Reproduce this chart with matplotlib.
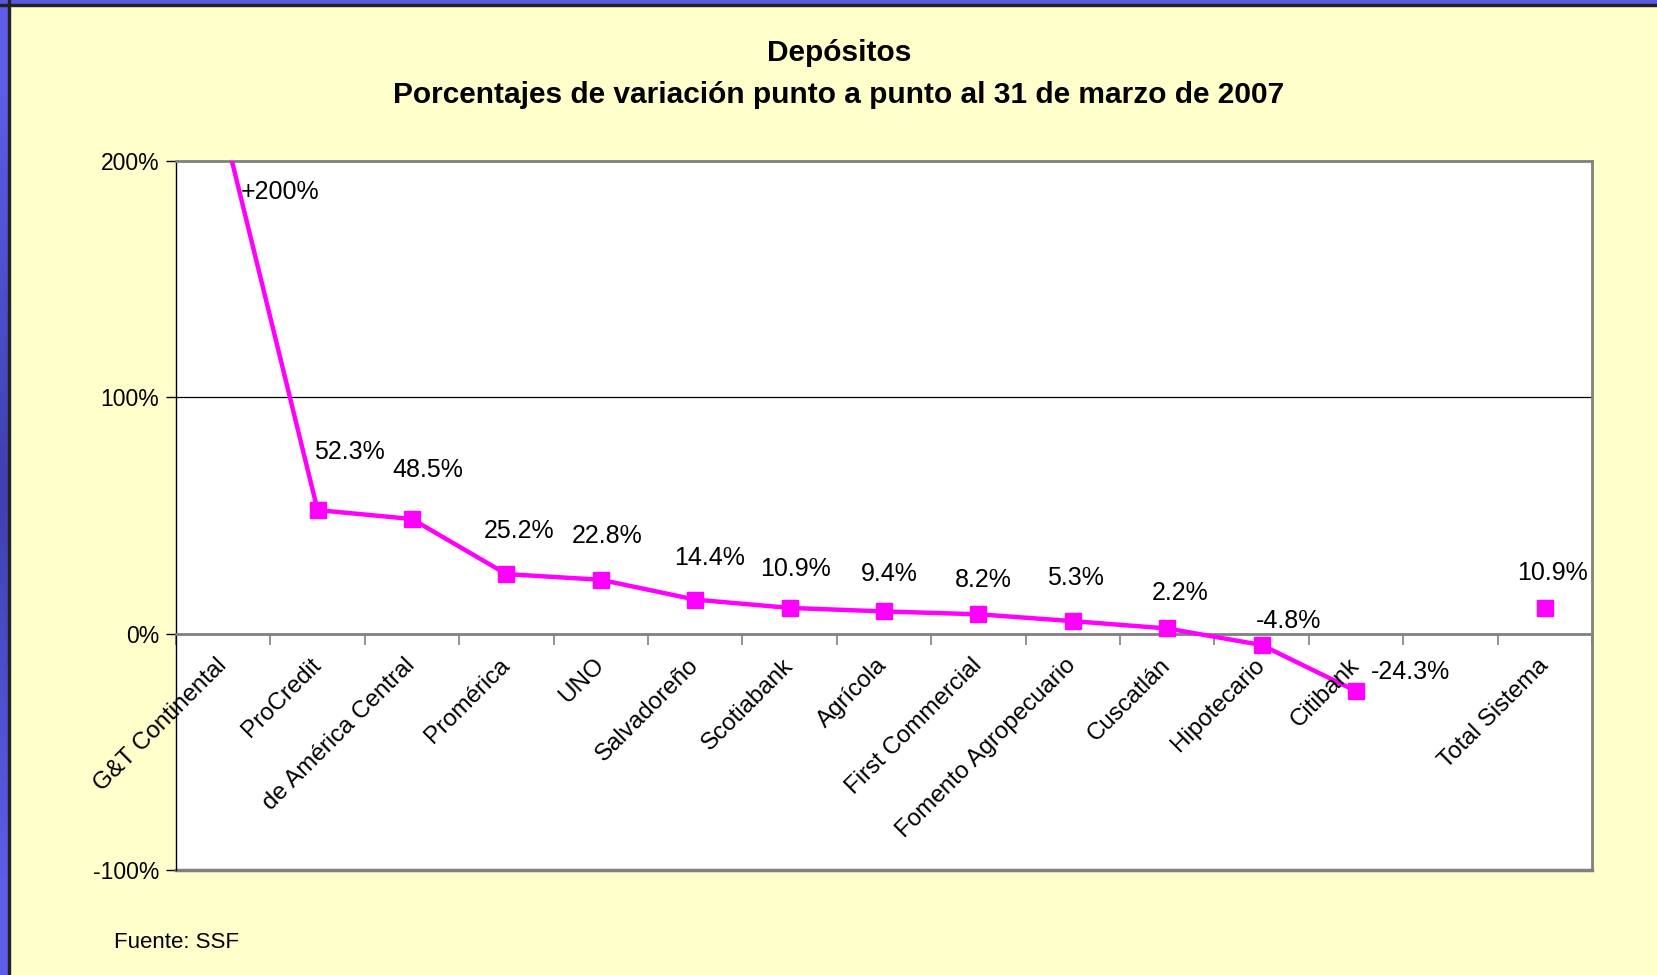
import numpy as np
import matplotlib.pyplot as plt
from matplotlib.patches import Rectangle

plt.rcParams['font.family'] = ['Liberation Sans', 'DejaVu Sans']

# %% Data
bancos = ["G&T Continental", "ProCredit", "de América Central", "Promérica", "UNO",
          "Salvadoreño", "Scotiabank", "Agrícola", "First Commercial",
          "Fomento Agropecuario", "Cuscatlán", "Hipotecario", "Citibank", "",
          "Total Sistema"]
variacion = [215.0, 52.3, 48.5, 25.2, 22.8, 14.4, 10.9, 9.4, 8.2, 5.3, 2.2, -4.8, -24.3,
             np.nan, 10.9]
etiquetas = ["+200%", "52.3%", "48.5%", "25.2%", "22.8%", "14.4%", "10.9%", "9.4%", "8.2%",
             "5.3%", "2.2%", "-4.8%", "-24.3%", "", "10.9%"]
y_ticks = [-100, 0, 100, 200]

# label offsets from each marker, in pixels (layout only)
label_offsets = [(0, 0), (32, 58), (16, 49), (13, 43), (6, 44), (14, 42), (6, 39), (5, 37),
                 (5, 34), (3, 43), (13, 35), (27, 24), (54, 19), (0, 0), (8, 35)]

W, H = 1657, 975
fig = plt.figure(figsize=(W / 100, H / 100), dpi=100, facecolor="#FFFFCC")

# blue frame strips (top and left)
fig.patches.append(Rectangle((0, 1 - 4 / H), 1, 4 / H, transform=fig.transFigure,
                             color="#5858E0", zorder=0))
fig.patches.append(Rectangle((0, 1 - 6 / H), 1, 2 / H, transform=fig.transFigure,
                             color="#222222", zorder=0))
grad = fig.add_axes([0, 0, 8 / W, 1])
grad.imshow(np.array([[0.0], [0.5], [1.0], [0.5], [0.0]]), aspect="auto",
            cmap=plt.matplotlib.colors.LinearSegmentedColormap.from_list(
                "b", ["#5C5CE8", "#4040B0"]), interpolation="bilinear")
grad.axis("off")
fig.patches.append(Rectangle((8 / W, 0), 2 / W, 1, transform=fig.transFigure,
                             color="#222222", zorder=0))

# %% Plot area
left, right, top, bottom = 176, 1592, 161, 870
ax = fig.add_axes([left / W, 1 - bottom / H, (right - left) / W, (bottom - top) / H])
ax.set_facecolor("white")
x = np.arange(len(bancos))
ax.set_xlim(-0.5, len(bancos) - 0.5)
ax.set_ylim(-100, 200)

ax.axhline(100, color="black", lw=0.9, zorder=1)
ax.plot(x, variacion, color="#FF00FF", lw=3.2, marker="s", markersize=11.5,
        markeredgecolor="#FF00FF", zorder=3)

for s in ["top", "right"]:
    ax.spines[s].set_color("#808080")
    ax.spines[s].set_linewidth(2)
ax.spines["left"].set_color("black")
ax.spines["left"].set_linewidth(1)
ax.spines["bottom"].set_position(("data", 0))
ax.spines["bottom"].set_color("#808080")
ax.spines["bottom"].set_linewidth(2)
ax.plot([0, 1], [0, 0], transform=ax.transAxes, color="#808080", lw=2.5, clip_on=False)

ax.set_xticks(np.arange(-0.5, len(bancos), 1))
ax.set_xticklabels([])
ax.tick_params(axis="x", direction="out", length=8, color="#808080", width=1.2)
ax.set_yticks(y_ticks)
ax.set_yticklabels([f"{v}%" for v in y_ticks], fontsize=16.5)
ax.tick_params(axis="y", direction="out", length=7, color="black", width=1, pad=5)

# category labels below the zero line
for i, name in enumerate(bancos):
    ax.text(i + 0.0, -12, name, rotation=45, ha="right", va="center",
            rotation_mode="anchor", fontsize=17.4)

# data labels
for i, (v, lab) in enumerate(zip(variacion, etiquetas)):
    if not lab:
        continue
    if v > 200:
        ax.text(i + 0.6, 187, lab, ha="center", va="center", fontsize=18)
        continue
    dx, dy = label_offsets[i]
    ax.annotate(lab, (i, v), xytext=(dx, dy), textcoords="offset pixels",
                ha="center", va="center", fontsize=18)

# %% Titles and source
fig.text(839 / W, 1 - 53 / H, "Depósitos", ha="center", va="center",
         fontsize=21.5, fontweight="bold")
fig.text(839 / W, 1 - 95 / H, "Porcentajes de variación punto a punto al 31 de marzo de 2007",
         ha="center", va="center", fontsize=21.5, fontweight="bold")
fig.text(114 / W, 1 - 948 / H, "Fuente: SSF", ha="left", va="baseline", fontsize=16)

fig.savefig("out.png", dpi=100, facecolor=fig.get_facecolor())
